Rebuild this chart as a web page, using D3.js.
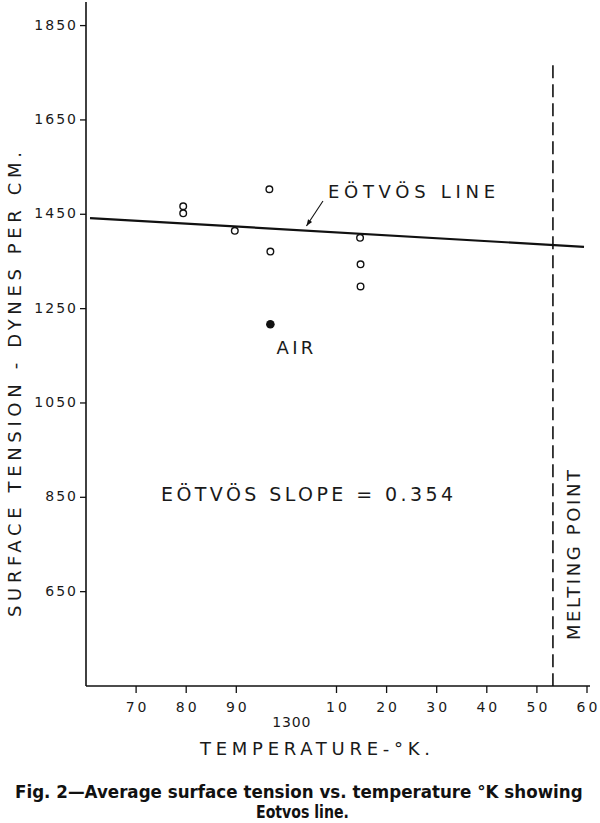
<!DOCTYPE html>
<html>
<head>
<meta charset="utf-8">
<script src="https://cdn.jsdelivr.net/npm/d3@7"></script>
<style>
  html, body { margin: 0; padding: 0; background: #fff; }
  svg { display: block; }
  text { font-family: "DejaVu Sans", "Liberation Sans", sans-serif; fill: #1a1a1a; }
  .cap { font-family: "DejaVu Sans", "Liberation Sans", sans-serif; font-weight: bold; fill: #111; }
</style>
</head>
<body>
<svg id="chart" width="600" height="823"></svg>
<script>
// ---- data ----
const yTicks = [650, 850, 1050, 1250, 1450, 1650, 1850];
const xTicks = [1270, 1280, 1290, 1310, 1320, 1330, 1340, 1350, 1360];
const xTickLabels = ["70", "80", "90", "10", "20", "30", "40", "50", "60"];
const openTemps  = [1279.4, 1279.4, 1289.7, 1296.6, 1296.8, 1314.7, 1314.8, 1314.8];
const openValues = [1467, 1452, 1415, 1503, 1371, 1400, 1344, 1297];
const airTemps  = [1296.8];
const airValues = [1217];
const eotvosTemps  = [1260.8, 1359.4];
const eotvosValues = [1442, 1381];
const meltingTemp = 1353.2;
const meltingTop = 1766;

const svg = d3.select("#chart");
const x = d3.scaleLinear().domain([1260, 1360]).range([86, 587]);
const y = d3.scaleLinear().domain([450, 1900]).range([686, 2]);

// axes lines
svg.append("line").attr("x1", x(1260)).attr("x2", x(1260)).attr("y1", y(1900)).attr("y2", y(450))
  .attr("stroke", "#111").attr("stroke-width", 1.6);
svg.append("line").attr("x1", x(1260)).attr("x2", x(1360) + 3).attr("y1", y(450)).attr("y2", y(450))
  .attr("stroke", "#111").attr("stroke-width", 1.6);

// y ticks
const yg = svg.append("g");
yTicks.forEach(v => {
  yg.append("line").attr("x1", x(1260) - 6).attr("x2", x(1260)).attr("y1", y(v)).attr("y2", y(v))
    .attr("stroke", "#111").attr("stroke-width", 1.3);
  yg.append("text").attr("x", x(1260) - 8).attr("y", y(v) + 4)
    .attr("text-anchor", "end").attr("font-size", 14).attr("letter-spacing", 2)
    .text(String(v));
});

// x ticks
const xg = svg.append("g");
xTicks.forEach((v, i) => {
  xg.append("line").attr("x1", x(v)).attr("x2", x(v)).attr("y1", y(450)).attr("y2", y(450) + 7)
    .attr("stroke", "#111").attr("stroke-width", 1.3);
  xg.append("text").attr("x", x(v) + 1.5).attr("y", y(450) + 26)
    .attr("text-anchor", "middle").attr("font-size", 14).attr("letter-spacing", 3)
    .text(xTickLabels[i]);
});
svg.append("text").attr("x", x(1297.2)).attr("y", y(450) + 41)
  .attr("font-size", 14).attr("textLength", 38).attr("lengthAdjust", "spacing").text("1300");

// axis titles
svg.append("text").attr("x", 200).attr("y", 755)
  .attr("font-size", 18).attr("textLength", 230).attr("lengthAdjust", "spacing")
  .text("TEMPERATURE-°K.");
svg.append("text").attr("transform", "translate(21,617) rotate(-90)")
  .attr("font-size", 18).attr("textLength", 465).attr("lengthAdjust", "spacing")
  .text("SURFACE TENSION - DYNES PER CM.");

// melting point
svg.append("line").attr("x1", x(meltingTemp)).attr("x2", x(meltingTemp))
  .attr("y1", y(meltingTop)).attr("y2", y(450))
  .attr("stroke", "#111").attr("stroke-width", 1.6).attr("stroke-dasharray", "13,6");
svg.append("text").attr("transform", "translate(580,640) rotate(-90)")
  .attr("font-size", 18).attr("textLength", 170).attr("lengthAdjust", "spacing")
  .text("MELTING POINT");

// Eotvos line
svg.append("path")
  .datum(eotvosTemps.map((t, i) => [t, eotvosValues[i]]))
  .attr("d", d3.line().x(d => x(d[0])).y(d => y(d[1])))
  .attr("stroke", "#111").attr("stroke-width", 2.2).attr("fill", "none");

// points
svg.append("g").selectAll("circle")
  .data(openTemps.map((t, i) => [t, openValues[i]]))
  .join("circle")
  .attr("cx", d => x(d[0])).attr("cy", d => y(d[1])).attr("r", 3.3)
  .attr("fill", "#fff").attr("stroke", "#111").attr("stroke-width", 1.4);
svg.append("g").selectAll("circle")
  .data(airTemps.map((t, i) => [t, airValues[i]]))
  .join("circle")
  .attr("cx", d => x(d[0])).attr("cy", d => y(d[1])).attr("r", 4.3)
  .attr("fill", "#111");

// annotations
svg.append("text").attr("x", x(1298)).attr("y", y(1153))
  .attr("font-size", 18).attr("textLength", 37).attr("lengthAdjust", "spacing").text("AIR");

svg.append("text").attr("x", 328).attr("y", y(1485))
  .attr("font-size", 18).attr("textLength", 167).attr("lengthAdjust", "spacing")
  .text("EÖTVÖS  LINE");

// arrow
const ax1 = x(1307.3), ay1 = y(1478), ax2 = x(1304), ay2 = y(1425);
svg.append("line").attr("x1", ax1).attr("y1", ay1).attr("x2", ax2).attr("y2", ay2)
  .attr("stroke", "#111").attr("stroke-width", 1.1);
const ang = Math.atan2(ay2 - ay1, ax2 - ax1);
const hl = 7, hw = 0.35;
svg.append("path")
  .attr("d", `M${ax2},${ay2} L${ax2 - hl*Math.cos(ang - hw)},${ay2 - hl*Math.sin(ang - hw)} L${ax2 - hl*Math.cos(ang + hw)},${ay2 - hl*Math.sin(ang + hw)} Z`)
  .attr("fill", "#111");

svg.append("text").attr("x", 161).attr("y", 501)
  .attr("font-size", 19).attr("textLength", 292).attr("lengthAdjust", "spacing")
  .text("EÖTVÖS  SLOPE = 0.354");

// caption: condensed by horizontal scaling to the reference widths
function caption(str, left, baseline, width) {
  const g = svg.append("g");
  const t = g.append("text").attr("class", "cap").attr("x", 0).attr("y", 0)
    .attr("font-size", 18).text(str);
  const w = t.node().getComputedTextLength();
  g.attr("transform", `translate(${left},${baseline}) scale(${width / w},1)`);
}
caption("Fig. 2—Average surface tension vs. temperature °K showing", 15, 798, 568);
caption("Eotvos line.", 256, 818, 93);
</script>
</body>
</html>
